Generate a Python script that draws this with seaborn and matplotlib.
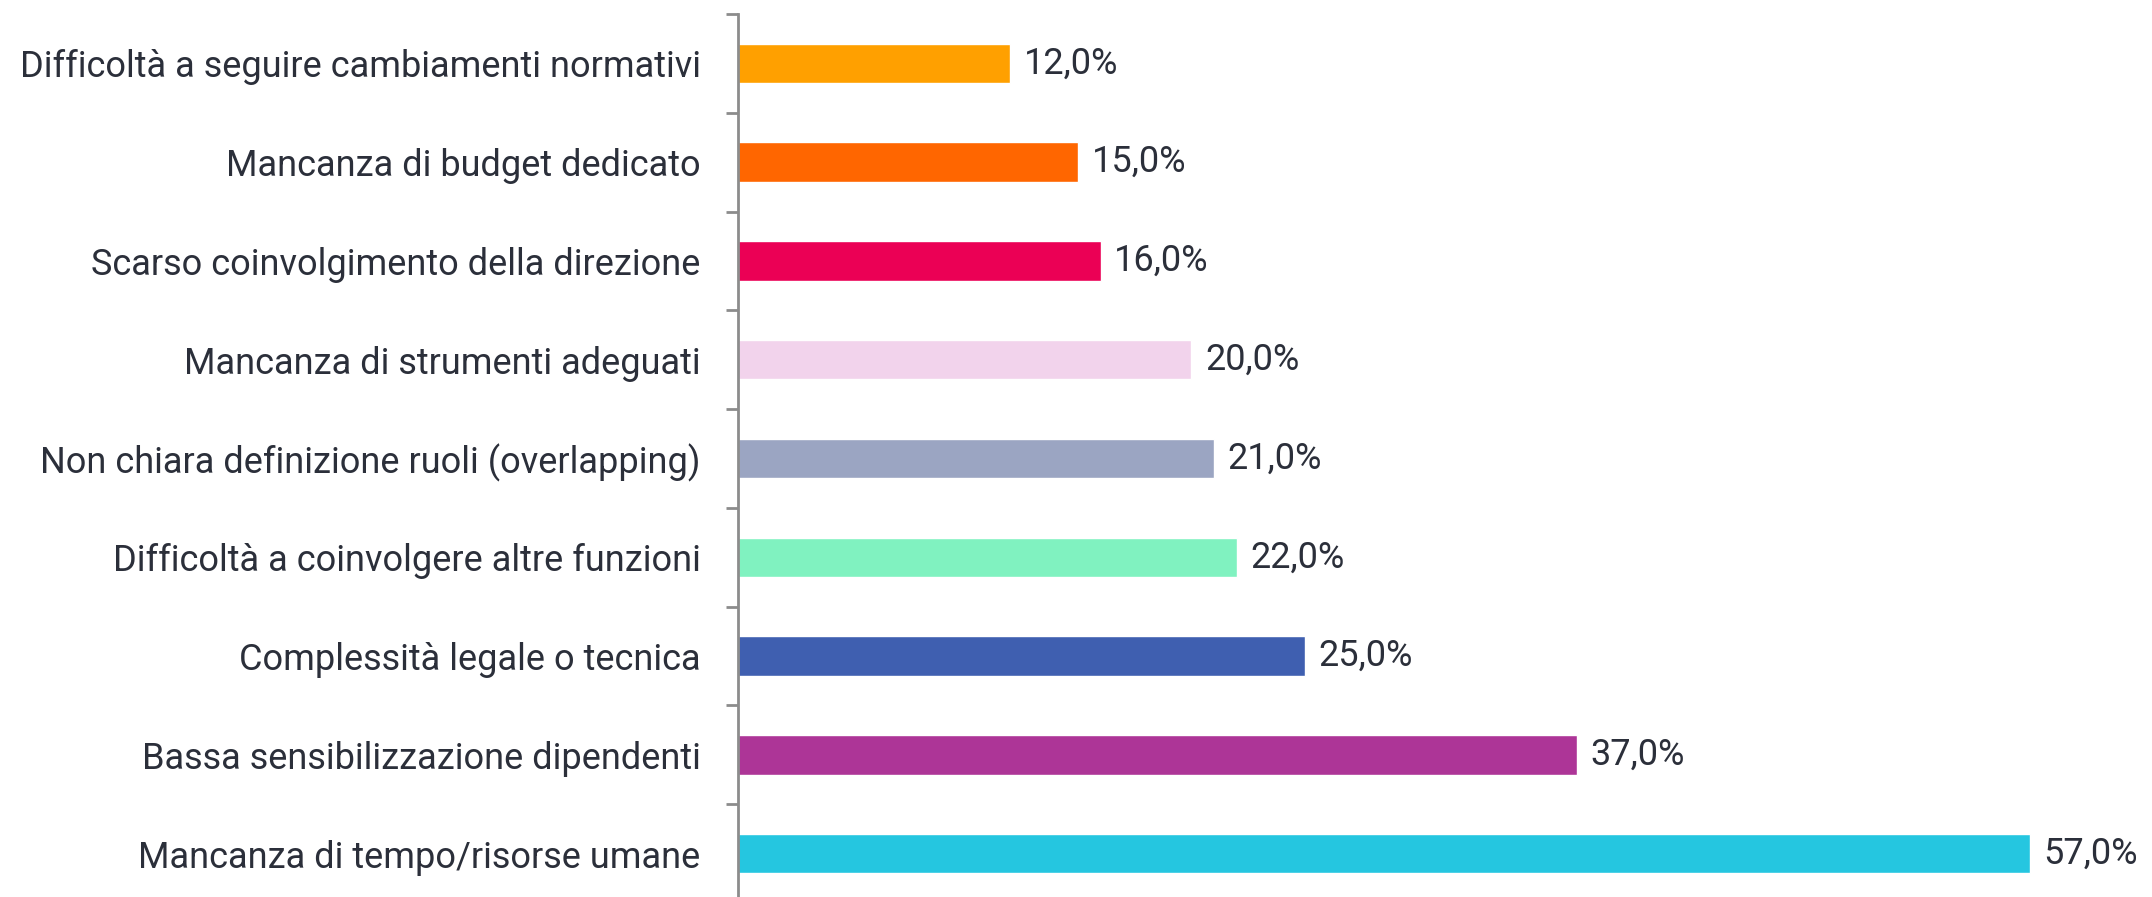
import matplotlib
matplotlib.use("Agg")
import matplotlib.pyplot as plt
import seaborn as sns
import pandas as pd

categories = [
    "Difficoltà a seguire cambiamenti normativi",
    "Mancanza di budget dedicato",
    "Scarso coinvolgimento della direzione",
    "Mancanza di strumenti adeguati",
    "Non chiara definizione ruoli (overlapping)",
    "Difficoltà a coinvolgere altre funzioni",
    "Complessità legale o tecnica",
    "Bassa sensibilizzazione dipendenti",
    "Mancanza di tempo/risorse umane",
]
values = [12.0, 15.0, 16.0, 20.0, 21.0, 22.0, 25.0, 37.0, 57.0]
colors = ["#FFA000", "#FF6600", "#EB0055", "#F2D3EC", "#9BA5C2",
          "#80F2C0", "#3F5FB0", "#AD3597", "#25C6E0"]

data = pd.DataFrame({"cat": categories, "val": values})

sns.set_theme(style="white")
plt.rcParams["font.family"] = ["Roboto", "DejaVu Sans"]
text_col = "#2B2F3A"
spine_col = "#8C8C8C"

W, H = 2152, 897
fig = plt.figure(figsize=(W / 100, H / 100), dpi=100)
ax_left, ax_top, ax_h = 738, 14, 889
ax_w = 60 * (2030 - 738) / 57
ax = fig.add_axes([ax_left / W, (H - ax_top - ax_h) / H, ax_w / W, ax_h / H])

sns.barplot(data=data, x="val", y="cat", hue="cat", palette=colors,
            legend=False, width=0.4, saturation=1, ax=ax)

ax.set_xlim(0, 60)
ax.set_ylim(len(categories) - 0.5, -0.5)
ax.set_xlabel("")
ax.set_ylabel("")
ax.set_xticks([])

for s in ["top", "right", "bottom"]:
    ax.spines[s].set_visible(False)
ax.spines["left"].set_color(spine_col)
ax.spines["left"].set_linewidth(2)

ax.set_yticks([i + 0.5 for i in range(-1, len(categories))], minor=True)
ax.tick_params(axis="y", which="minor", left=True, length=9, width=2, color=spine_col)
ax.tick_params(axis="y", which="major", length=0, pad=27, labelsize=26, labelcolor=text_col)

for i, v in enumerate(values):
    ax.text(v + 0.6, i, f"{v:.1f}%".replace(".", ","), va="center", ha="left",
            fontsize=26, color=text_col, clip_on=False)

fig.savefig("out.png", dpi=100)
